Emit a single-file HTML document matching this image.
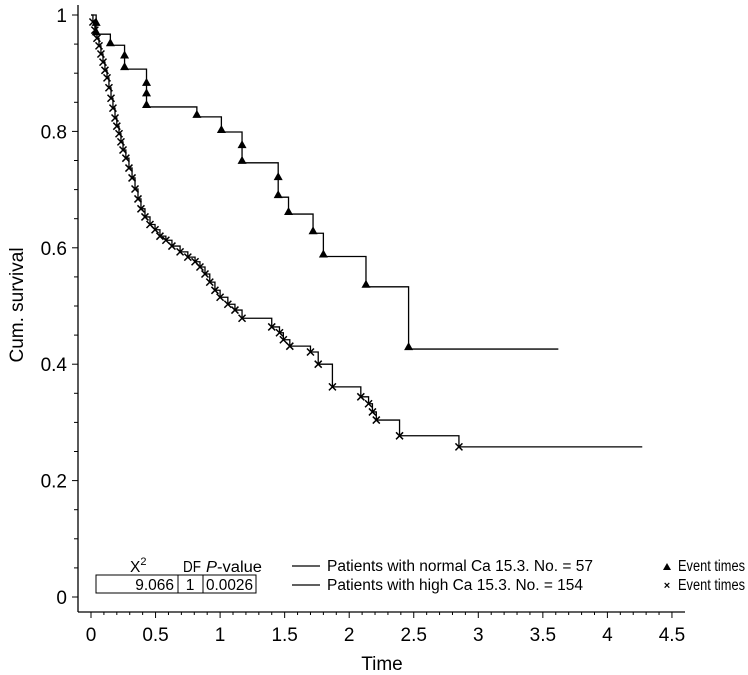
<!DOCTYPE html>
<html><head><meta charset="utf-8"><style>
body{margin:0;background:#fff;}
svg{display:block;font-family:"Liberation Sans",Arial,sans-serif;}
</style></head><body>
<svg id="chart" width="748" height="675" viewBox="0 0 748 675">
<g id="axes"></g>
<g id="series"></g>
<g font-size="15.5" fill="#000">
  <text x="130" y="572">X<tspan dy="-7" font-size="11">2</tspan></text>
  <text x="183" y="572" textLength="18" lengthAdjust="spacingAndGlyphs">DF</text>
  <text x="206" y="572" textLength="56" lengthAdjust="spacingAndGlyphs"><tspan font-style="italic">P</tspan>-value</text>
  <rect x="96" y="575" width="160" height="18" fill="none" stroke="#000" stroke-width="1"/>
  <line x1="178" y1="575" x2="178" y2="593" stroke="#000"/>
  <line x1="203" y1="575" x2="203" y2="593" stroke="#000"/>
  <text x="174" y="590" text-anchor="end">9.066</text>
  <text x="190" y="590" text-anchor="middle">1</text>
  <text x="206" y="590" textLength="47" lengthAdjust="spacingAndGlyphs">0.0026</text>
  <line x1="292" y1="566" x2="320" y2="566" stroke="#000" stroke-width="1.3"/>
  <text x="327" y="571" textLength="266" lengthAdjust="spacingAndGlyphs">Patients with normal Ca 15.3. No. = 57</text>
  <line x1="292" y1="585" x2="320" y2="585" stroke="#000" stroke-width="1.3"/>
  <text x="327" y="590" textLength="256" lengthAdjust="spacingAndGlyphs">Patients with high Ca 15.3. No. = 154</text>
  <path d="M663,570 L671,570 L667,563 Z" fill="#000"/>
  <text x="678" y="571" textLength="67" lengthAdjust="spacingAndGlyphs">Event times</text>
  <text x="667" y="589" text-anchor="middle" font-size="11" font-weight="bold">×</text>
  <text x="678" y="590" textLength="67" lengthAdjust="spacingAndGlyphs">Event times</text>
</g>
<text x="382" y="670" font-size="19" text-anchor="middle">Time</text>
<text transform="translate(23,305) rotate(-90)" font-size="19" text-anchor="middle">Cum. survival</text>
</svg>
<script>
const xTicks=[0,0.5,1,1.5,2,2.5,3,3.5,4,4.5];
const yTicks=[0,0.2,0.4,0.6,0.8,1];
const normalTimes=[0,0.04,0.15,0.26,0.43,0.82,1.01,1.17,1.45,1.53,1.72,1.80,2.13,2.46];
const normalSurv=[1,0.967,0.948,0.907,0.842,0.825,0.799,0.746,0.687,0.658,0.625,0.585,0.533,0.426];
const normalEnd=3.62;
const normalMarkT=[0.04,0.04,0.15,0.26,0.26,0.43,0.43,0.43,0.82,1.01,1.17,1.17,1.45,1.45,1.53,1.72,1.80,2.13,2.46];
const normalMarkV=[0.983,0.967,0.948,0.927,0.907,0.88,0.862,0.842,0.825,0.799,0.773,0.746,0.718,0.687,0.658,0.625,0.585,0.533,0.426];
const highTimes=[0,0.015,0.03,0.046,0.062,0.077,0.093,0.108,0.124,0.139,0.155,0.17,0.186,0.2,0.217,0.232,0.248,0.27,0.294,0.318,0.341,0.364,0.387,0.418,0.457,0.496,0.534,0.58,0.627,0.69,0.75,0.806,0.844,0.883,0.92,0.96,1.0,1.06,1.115,1.17,1.40,1.46,1.49,1.54,1.70,1.76,1.87,2.09,2.15,2.18,2.21,2.39,2.85];
const highSurv=[1,0.988,0.974,0.96,0.947,0.933,0.919,0.905,0.892,0.875,0.857,0.84,0.823,0.809,0.796,0.782,0.768,0.754,0.737,0.72,0.701,0.684,0.667,0.653,0.64,0.631,0.62,0.613,0.603,0.593,0.584,0.576,0.567,0.555,0.541,0.527,0.515,0.503,0.493,0.479,0.464,0.454,0.442,0.431,0.421,0.40,0.361,0.344,0.332,0.318,0.304,0.277,0.258];
const highEnd=4.27;

const NS='http://www.w3.org/2000/svg';
const x0=91,xs=129.1,y0=597,ys=582;
function X(t){return x0+t*xs;}
function Y(v){return y0-v*ys;}
function mk(tag,attrs,parent){const e=document.createElementNS(NS,tag);for(const k in attrs)e.setAttribute(k,attrs[k]);parent.appendChild(e);return e;}
const axes=document.getElementById('axes');
const series=document.getElementById('series');
let e=mk('line',{x1:78,y1:5,x2:78,y2:612,stroke:'#000','stroke-width':1.3},axes);


e=mk('line',{x1:78,y1:612,x2:685,y2:612,stroke:'#000','stroke-width':1.3},axes);


for(let i=0;i<=20;i++){const v=i*0.05;const major=i%4===0;
  const l=mk('line',{x1:major?72:74,y1:Y(v),x2:78,y2:Y(v),stroke:'#000','stroke-width':1},axes);
  
  }
yTicks.forEach(v=>{const t=mk('text',{x:67,y:Y(v)+7,'text-anchor':'end','font-size':19},axes);t.textContent=String(v);
  
  });
for(let i=0;i<=45;i++){const t=i*0.1;const major=i%5===0;
  const l=mk('line',{x1:X(t),y1:612,x2:X(t),y2:major?618:615,stroke:'#000','stroke-width':1},axes);
  
  }
xTicks.forEach(v=>{const t=mk('text',{x:X(v),y:641,'text-anchor':'middle','font-size':19},axes);t.textContent=String(v);
  
  });
function stepPath(ts,vs,end){let d='M'+X(ts[0])+','+Y(vs[0]);
  for(let i=1;i<ts.length;i++){d+=' L'+X(ts[i])+','+Y(vs[i-1])+' L'+X(ts[i])+','+Y(vs[i]);}
  d+=' L'+X(end)+','+Y(vs[vs.length-1]);return d;}
e=mk('path',{d:stepPath(normalTimes,normalSurv,normalEnd),fill:'none',stroke:'#000','stroke-width':1.3},series);


e=mk('path',{d:stepPath(highTimes,highSurv,highEnd),fill:'none',stroke:'#000','stroke-width':1.3},series);


normalMarkT.forEach((t,i)=>{const cx=X(t),cy=Y(normalMarkV[i]);
  const p=mk('path',{d:`M${cx-4.5},${cy+1} L${cx+4.5},${cy+1} L${cx},${cy-7} Z`,fill:'#000'},series);
  
  });
highTimes.slice(1).forEach((t,i)=>{const cx=X(t),cy=Y(highSurv[i+1]);
  const p=mk('path',{d:`M${cx-3.5},${cy-3.5} L${cx+3.5},${cy+3.5} M${cx+3.5},${cy-3.5} L${cx-3.5},${cy+3.5}`,stroke:'#000','stroke-width':1.5},series);
  
  });
</script>
</body></html>
